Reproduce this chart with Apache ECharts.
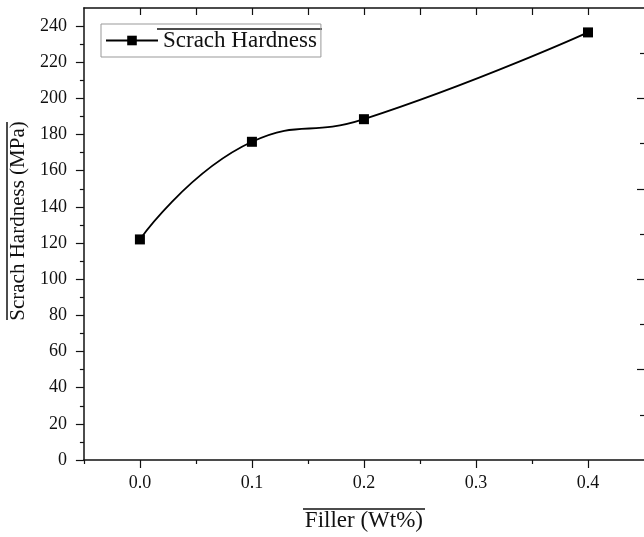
<!DOCTYPE html>
<html>
<head>
<meta charset="utf-8">
<script src="https://cdn.jsdelivr.net/npm/echarts@6/dist/echarts.min.js"></script>
<style>
html, body { margin: 0; padding: 0; background: #fff; }
#main { width: 644px; height: 537px; }
</style>
</head>
<body>
<div id="main"></div>
<script>
// data
var fillerWt = [0.0, 0.1, 0.2, 0.4];
var scratchHardness = [122, 176, 188.5, 236.5];

// tick positions
var xMajorTicks = [0, 0.1, 0.2, 0.3, 0.4];
var xMinorTicks = [-0.05, 0.05, 0.15, 0.25, 0.35];
var xTopTicks = [0, 0.05, 0.1, 0.15, 0.2, 0.25, 0.3, 0.35, 0.4];
var yMajorTicks = [0, 20, 40, 60, 80, 100, 120, 140, 160, 180, 200, 220, 240];
var yMinorTicks = [10, 30, 50, 70, 90, 110, 130, 150, 170, 190, 210, 230];
// stray ticks of another axis on the right edge (its line is cut off)
var rightMajorTicks = [1, 2, 3, 4];
var rightMinorTicks = [0.5, 1.5, 2.5, 3.5, 4.5];

var serif = "'Liberation Serif', 'Times New Roman', serif";
var black = '#111';

var myChart = echarts.init(document.getElementById('main'));

var option = {
    animation: false,
    backgroundColor: '#fff',
    grid: {
        left: 83,
        top: 8,
        width: 562,
        height: 455
    },
    legend: {
        data: ['Scrach Hardness'],
        left: 101,
        top: 24,
        orient: 'vertical',
        borderColor: '#999',
        borderWidth: 1,
        padding: [5, 4, 5, 4],
        itemWidth: 52,
        itemHeight: 12,
        textStyle: { fontFamily: serif, fontSize: 23, color: black }
    },
    xAxis: [
        {
            type: 'value',
            position: 'bottom',
            min: -0.05,
            max: 0.45,
            axisLine: { onZero: false, lineStyle: { color: black, width: 1.5 } },
            axisTick: { customValues: xMajorTicks, length: 8, inside: false, lineStyle: { color: black, width: 1.2 } },
            axisLabel: {
                customValues: xMajorTicks,
                formatter: function (v) { return v.toFixed(1); },
                fontFamily: serif, fontSize: 18, color: black, margin: 14
            },
            splitLine: { show: false },
            name: 'Filler (Wt%)',
            nameLocation: 'middle',
            nameGap: 49,
            nameTextStyle: { fontFamily: serif, fontSize: 23, color: black }
        },
        {
            type: 'value',
            position: 'bottom',
            min: -0.05,
            max: 0.45,
            axisLine: { show: false, onZero: false },
            axisTick: { customValues: xMinorTicks, length: 4, lineStyle: { color: black, width: 1.2 } },
            axisLabel: { show: false },
            splitLine: { show: false }
        },
        {
            type: 'value',
            position: 'top',
            min: -0.05,
            max: 0.45,
            axisLine: { onZero: false, lineStyle: { color: black, width: 1.5 } },
            axisTick: { customValues: xTopTicks, length: 7, inside: true, lineStyle: { color: black, width: 1.2 } },
            axisLabel: { show: false },
            splitLine: { show: false }
        }
    ],
    yAxis: [
        {
            type: 'value',
            position: 'left',
            min: 0,
            max: 250,
            axisLine: { show: true, onZero: false, lineStyle: { color: black, width: 1.5 } },
            axisTick: { show: true, customValues: yMajorTicks, length: 8, lineStyle: { color: black, width: 1.2 } },
            axisLabel: {
                customValues: yMajorTicks,
                fontFamily: serif, fontSize: 18, color: black, margin: 17
            },
            splitLine: { show: false },
            name: 'Scrach Hardness (MPa)',
            nameLocation: 'middle',
            nameRotate: 90,
            nameGap: 54,
            nameTextStyle: { fontFamily: serif, fontSize: 21, color: black, padding: [0, 0, 0, 26] }
        },
        {
            type: 'value',
            position: 'left',
            min: 0,
            max: 250,
            axisLine: { show: false, onZero: false },
            axisTick: { show: true, customValues: yMinorTicks, length: 4, lineStyle: { color: black, width: 1.2 } },
            axisLabel: { show: false },
            splitLine: { show: false }
        },
        {
            type: 'value',
            position: 'right',
            min: 0,
            max: 5,
            axisLine: { show: false, onZero: false },
            axisTick: { show: true, customValues: rightMajorTicks, length: 7, inside: true, lineStyle: { color: black, width: 1.2 } },
            axisLabel: { show: false },
            splitLine: { show: false }
        },
        {
            type: 'value',
            position: 'right',
            min: 0,
            max: 5,
            axisLine: { show: false, onZero: false },
            axisTick: { show: true, customValues: rightMinorTicks, length: 4, inside: true, lineStyle: { color: black, width: 1.2 } },
            axisLabel: { show: false },
            splitLine: { show: false }
        }
    ],
    series: [
        {
            name: 'Scrach Hardness',
            type: 'line',
            xAxisIndex: 0,
            yAxisIndex: 0,
            smooth: 0.5,
            symbol: 'rect',
            symbolSize: 10,
            itemStyle: { color: '#000' },
            lineStyle: { color: '#000', width: 1.8 },
            data: fillerWt.map(function (x, i) { return [x, scratchHardness[i]]; })
        }
    ],
    // overlines over the titles, as in the source figure
    graphic: [
        { type: 'line', shape: { x1: 157, y1: 29, x2: 322, y2: 29 }, style: { stroke: black, lineWidth: 1.5 } },
        { type: 'line', shape: { x1: 303, y1: 509, x2: 425, y2: 509 }, style: { stroke: black, lineWidth: 1.5 } },
        { type: 'line', shape: { x1: 7, y1: 122, x2: 7, y2: 320 }, style: { stroke: black, lineWidth: 1.5 } }
    ]
};

myChart.setOption(option);
window.onresize = function () { myChart.resize(); };
</script>
</body>
</html>
